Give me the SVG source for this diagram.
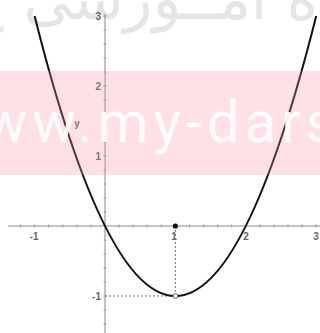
<svg xmlns="http://www.w3.org/2000/svg" width="320" height="333" viewBox="0 0 320 333">
<defs>
<style>
.axis{stroke:#8a8a8a;stroke-width:1;fill:none}
.tick{stroke:#8a8a8a;stroke-width:0.8}
.lbl{font-family:"Liberation Sans",Arial,sans-serif;font-size:10px;font-weight:bold;fill:#666}
.guide{stroke:#777;stroke-width:1;stroke-dasharray:2,2;fill:none}
.curve{stroke:#111;stroke-width:2;fill:none}
</style>
</defs>
<rect width="320" height="333" fill="#fff"/>
<text x="318" y="19" font-family="DejaVu Sans,sans-serif" font-size="60" fill="#e5e5e5" direction="rtl" text-anchor="start">ه آمــوزشی ع</text>
<g id="axes">
<line class="axis" x1="8" y1="226" x2="320" y2="226"/>
<line class="axis" x1="105" y1="14" x2="105" y2="333"/>
<path class="tick" d="M20.5 224.5v3M34.6 224.5v3M48.7 224.5v3M62.8 224.5v3M76.8 224.5v3M90.9 224.5v3M119.1 224.5v3M133.2 224.5v3M147.2 224.5v3M161.3 224.5v3M175.4 224.5v3M189.5 224.5v3M203.6 224.5v3M217.6 224.5v3M231.7 224.5v3M245.8 224.5v3M259.9 224.5v3M274 224.5v3M288 224.5v3M302.1 224.5v3M316.2 224.5v3"/>
<path class="tick" d="M103.5 16h3M103.5 30h3M103.5 44h3M103.5 58h3M103.5 72h3M103.5 86h3M103.5 100h3M103.5 114h3M103.5 128h3M103.5 142h3M103.5 156h3M103.5 170h3M103.5 184h3M103.5 198h3M103.5 212h3M103.5 240h3M103.5 254h3M103.5 268h3M103.5 282h3M103.5 296h3M103.5 310h3M103.5 324h3"/>
</g>
<g id="labels">
<text class="lbl" x="34" y="240" text-anchor="middle">-1</text>
<text class="lbl" x="174" y="240" text-anchor="middle">1</text>
<text class="lbl" x="246" y="240" text-anchor="middle">2</text>
<text class="lbl" x="316" y="240" text-anchor="middle">3</text>
<text class="lbl" x="101" y="20" text-anchor="end">3</text>
<text class="lbl" x="101" y="90" text-anchor="end">2</text>
<text class="lbl" x="101" y="160" text-anchor="end">1</text>
<text class="lbl" x="101" y="300" text-anchor="end">-1</text>
<text class="lbl" x="77" y="127" text-anchor="middle" font-weight="normal">y</text>
</g>
<g id="connectors">
<path class="guide" d="M175.4 226V296"/>
<path class="guide" d="M105 296H175.4"/>
</g>
<g id="parabola">
<path class="curve" d="M34.6 16Q175.4 576 316.2 16"/>
</g>
<g id="points">
<circle cx="175.4" cy="226" r="2.6" fill="#111"/>
<circle cx="175.4" cy="296" r="2.4" fill="#fff" stroke="#666" stroke-width="1"/>
</g>
<g id="watermark">
<rect x="0" y="71" width="320" height="104" fill="#ff8ea5" opacity="0.28"/>
<text x="-65" y="142" font-family="Roboto,sans-serif" font-size="58" fill="#fff" opacity="0.92" letter-spacing="5">www.my-dars</text>
</g>
</svg>
